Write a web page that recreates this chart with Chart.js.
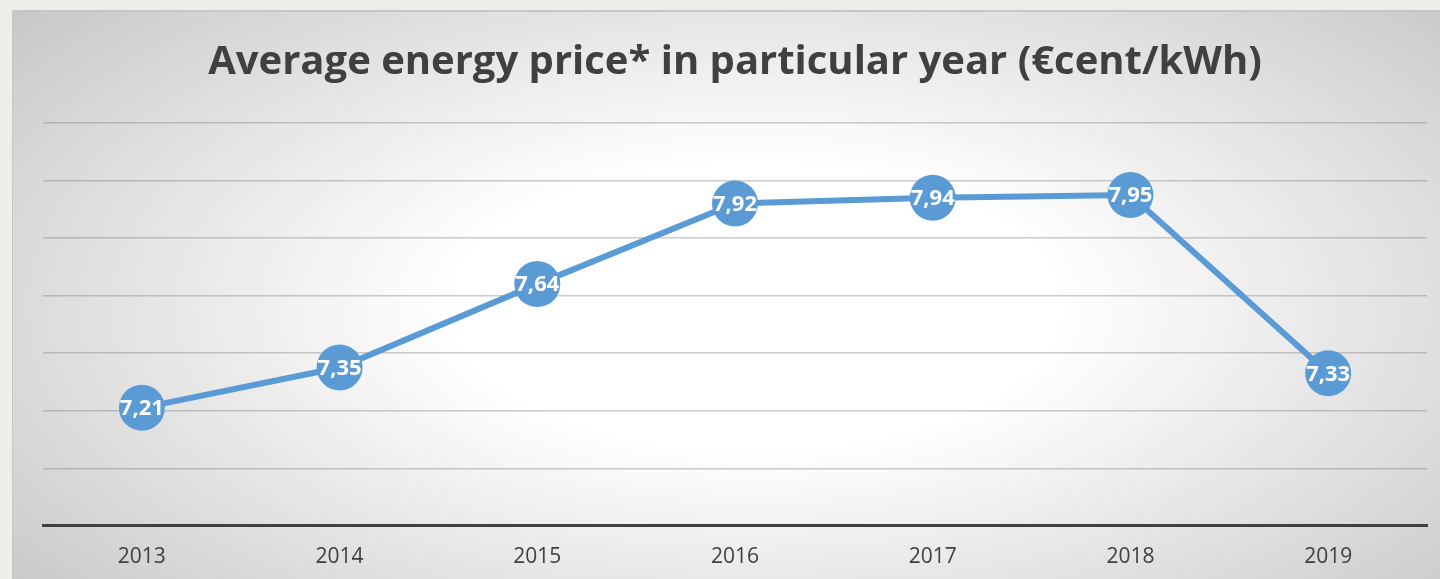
<!DOCTYPE html>
<html>
<head>
<meta charset="utf-8">
<script src="https://cdn.jsdelivr.net/npm/chart.js@4/dist/chart.umd.min.js"></script>
<style>
  html, body { margin: 0; padding: 0; background: #efeeea; }
  body { width: 1440px; height: 579px; overflow: hidden; position: relative; }
  .panel {
    position: absolute; left: 12px; top: 10px; width: 1428px; height: 569px;
    box-sizing: border-box;
    border-top: 2px solid #c6c6c6; border-left: 1px solid #c6c6c6;
    background: radial-gradient(ellipse 75% 90% at 52% 52%, #ffffff 0%, #ffffff 28%, #bfbfbf 100%);
  }
  canvas { display: block; }
</style>
</head>
<body>
<div class="panel">
  <canvas id="priceChart" width="1427" height="567"></canvas>
</div>
<script>
const years = ["2013","2014","2015","2016","2017","2018","2019"];
const prices = [7.21, 7.35, 7.64, 7.92, 7.94, 7.95, 7.33];
const titleText = "Average energy price* in particular year (€cent/kWh)";
const lineColor = "#5b9bd5";
const textColor = "#404040";

// Etiquetas blancas dentro de cada punto.
const pointLabels = {
  id: "pointLabels",
  afterDatasetsDraw(chart) {
    const {ctx} = chart;
    const meta = chart.getDatasetMeta(0);
    ctx.save();
    ctx.fillStyle = "#ffffff";
    ctx.font = "bold 22px 'Open Sans'";
    ctx.textAlign = "center";
    ctx.textBaseline = "middle";
    meta.data.forEach((pt, i) => {
      ctx.fillText(prices[i].toFixed(2).replace(".", ","), pt.x, pt.y + 1);
    });
    ctx.restore();
  }
};

new Chart(document.getElementById("priceChart"), {
  type: "line",
  data: {
    labels: years,
    datasets: [{
      data: prices,
      borderColor: lineColor,
      backgroundColor: lineColor,
      borderWidth: 6,
      pointRadius: 23,
      pointHoverRadius: 23,
      pointBorderWidth: 0,
      tension: 0,
      clip: false
    }]
  },
  options: {
    responsive: false,
    animation: false,
    layout: {autoPadding: false, padding: {left: 30, right: 13, top: 0, bottom: -10}},
    plugins: {
      legend: {display: false},
      tooltip: {enabled: false},
      title: {
        display: true,
        text: titleText,
        color: textColor,
        font: {family: "'Open Sans'", size: 40, weight: "bold", lineHeight: 1.2},
        padding: {top: 27, bottom: 36}
      }
    },
    scales: {
      x: {
        offset: true,
        grid: {display: false, drawTicks: false},
        border: {display: true, color: textColor, width: 3},
        ticks: {color: textColor, font: {family: "'Open Sans'", size: 21}, padding: 19}
      },
      y: {
        min: 6.8, max: 8.2,
        ticks: {display: false, stepSize: 0.2},
        border: {display: false},
        grid: {color: "rgba(128,128,128,0.4)", lineWidth: 1.5, drawTicks: false}
      }
    }
  },
  plugins: [pointLabels]
});
</script>
</body>
</html>
